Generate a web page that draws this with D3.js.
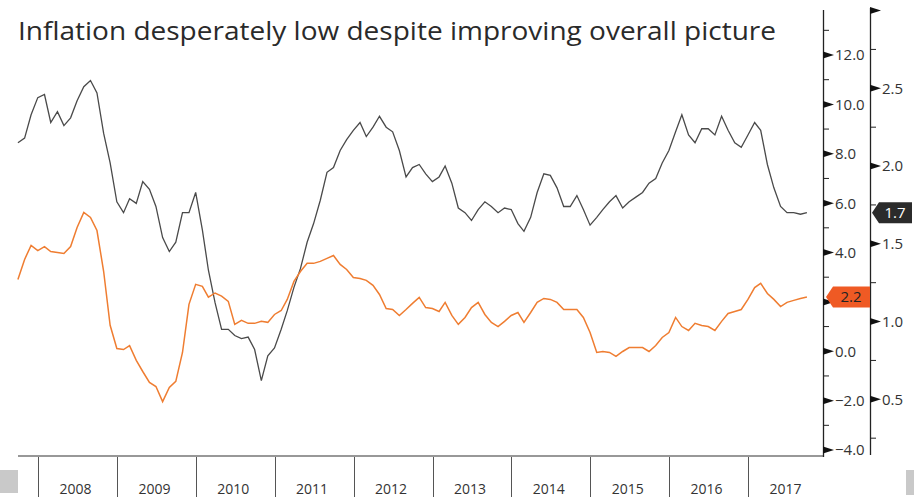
<!DOCTYPE html>
<html lang="en">
<head>
<meta charset="UTF-8">
<script src="https://d3js.org/d3.v7.min.js"></script>
<style>
  body { margin: 0; background: #fff; }
  svg { display: block; font-family: "Open Sans", "Liberation Sans", Arial, sans-serif; }
</style>
</head>
<body>
<div id="chart"></div>
<script>
// month-end observations, Sep 2007 .. Sep 2017
var startMonth = "2007-09";
// gray series (right axis)
var coreValues = [
  2.15, 2.18, 2.33, 2.44, 2.46, 2.28, 2.35, 2.26, 2.31, 2.42, 2.51, 2.55, 2.47,
  2.21, 2.02, 1.77, 1.70, 1.79, 1.76, 1.90, 1.85, 1.74, 1.54, 1.45, 1.51, 1.70,
  1.70, 1.83, 1.59, 1.33, 1.12, 0.95, 0.95, 0.91, 0.89, 0.90, 0.82, 0.62, 0.78,
  0.83, 0.95, 1.07, 1.22, 1.34, 1.51, 1.63, 1.78, 1.96, 1.99, 2.10, 2.17, 2.23,
  2.28, 2.19, 2.25, 2.32, 2.25, 2.22, 2.10, 1.93, 1.99, 2.01, 1.95, 1.90, 1.93,
  2.00, 1.89, 1.73, 1.70, 1.65, 1.72, 1.77, 1.74, 1.70, 1.73, 1.72, 1.63, 1.58,
  1.67, 1.83, 1.95, 1.94, 1.86, 1.74, 1.74, 1.81, 1.72, 1.62, 1.67, 1.72, 1.77,
  1.81, 1.73, 1.77, 1.80, 1.83, 1.89, 1.92, 2.02, 2.10, 2.22, 2.33, 2.20, 2.15,
  2.24, 2.24, 2.20, 2.32, 2.23, 2.15, 2.12, 2.20, 2.28, 2.23, 2.01, 1.86, 1.74,
  1.70, 1.70, 1.69, 1.70
];
// orange series (left axis)
var headlineValues = [
  2.91, 3.72, 4.29, 4.08, 4.24, 4.04, 4.00, 3.96, 4.24, 5.01, 5.62, 5.42, 4.89,
  3.23, 1.05, 0.11, 0.07, 0.23, -0.37, -0.82, -1.26, -1.43, -2.04, -1.47, -1.22, -0.05,
  1.90, 2.71, 2.63, 2.19, 2.36, 2.23, 2.02, 1.09, 1.25, 1.13, 1.13, 1.21, 1.17,
  1.49, 1.65, 2.10, 2.83, 3.23, 3.56, 3.56, 3.64, 3.76, 3.88, 3.52, 3.31, 2.99,
  2.95, 2.87, 2.67, 2.30, 1.73, 1.69, 1.45, 1.69, 1.94, 2.18, 1.77, 1.73, 1.61,
  1.98, 1.45, 1.09, 1.37, 1.77, 1.98, 1.49, 1.17, 1.00, 1.21, 1.45, 1.57, 1.17,
  1.57, 1.98, 2.14, 2.10, 1.98, 1.69, 1.69, 1.69, 1.37, 0.76, -0.05, -0.01, -0.05,
  -0.21, -0.01, 0.15, 0.15, 0.15, -0.01, 0.23, 0.56, 0.76, 1.37, 1.00, 0.84, 1.13,
  1.04, 1.00, 0.84, 1.21, 1.53, 1.61, 1.69, 2.10, 2.58, 2.75, 2.34, 2.10, 1.81,
  1.98, 2.06, 2.14, 2.20
];
var years = [2008, 2009, 2010, 2011, 2012, 2013, 2014, 2015, 2016, 2017];
var leftTicks = [-4, -2, 0, 2, 4, 6, 8, 10, 12];
var leftLabels = [-4, -2, 0, 4, 6, 8, 10, 12]; // 2.0 sits under the last-value tag
var leftMinor = [-3, -1, 1, 3, 5, 7, 9, 11, 13];
var rightTicks = [0.5, 1.0, 1.5, 2.0, 2.5];
var rightMinor = [0.25, 0.75, 1.25, 1.75, 2.25, 2.75];
var titleText = "Inflation desperately low despite improving overall picture";

var W = 914, H = 497;
var axisL = 823, axisR = 870, frameBottom = 456;

var parseMonth = d3.timeParse("%Y-%m");
var first = parseMonth(startMonth);
function monthEnd(i) {
  return d3.timeDay.offset(d3.timeMonth.offset(first, i + 1), -1);
}
var core = coreValues.map(function(v, i) { return { date: monthEnd(i), value: v }; });
var headline = headlineValues.map(function(v, i) { return { date: monthEnd(i), value: v }; });

var x = d3.scaleTime()
  .domain([new Date(2008, 0, 1), new Date(2018, 0, 1)])
  .range([38, 827]);
var yLeft = d3.scaleLinear().domain([-4, 12]).range([450, 55]);
var yRight = d3.scaleLinear().domain([0.5, 2.5]).range([399.3, 88.3]);

var svg = d3.select("#chart").append("svg")
  .attr("width", W).attr("height", H);

// title
svg.append("text")
  .attr("x", 18).attr("y", 40)
  .attr("textLength", 758)
  .attr("lengthAdjust", "spacingAndGlyphs")
  .style("font-size", "25px")
  .style("fill", "#2a2a2a")
  .text(titleText);

// bottom frame
svg.append("line")
  .attr("x1", 18).attr("x2", axisL)
  .attr("y1", frameBottom).attr("y2", frameBottom)
  .attr("stroke", "#333").attr("stroke-width", 1.2);

// year separators and labels
svg.selectAll(".yearline").data(years).enter().append("line")
  .attr("x1", function(d) { return Math.round(x(new Date(d, 0, 1))) + 0.5; })
  .attr("x2", function(d) { return Math.round(x(new Date(d, 0, 1))) + 0.5; })
  .attr("y1", frameBottom + 1).attr("y2", H)
  .attr("stroke", "#555").attr("stroke-width", 1);

svg.selectAll(".yearlabel").data(years).enter().append("text")
  .attr("x", function(d) { return (x(new Date(d, 0, 1)) + x(new Date(d + 1, 0, 1))) / 2 - 2; })
  .attr("y", 494)
  .attr("text-anchor", "middle")
  .style("font-size", "14px")
  .style("fill", "#333")
  .text(function(d) { return d; });

// axes
function drawAxis(ax, scale, major, minor, fmt, top, bottom, labelled) {
  var g = svg.append("g");
  g.append("line")
    .attr("x1", ax + 0.5).attr("x2", ax + 0.5)
    .attr("y1", top).attr("y2", bottom)
    .attr("stroke", "#222").attr("stroke-width", 1.3);
  g.selectAll(".minor").data(minor).enter().append("line")
    .attr("x1", ax).attr("x2", ax + 6)
    .attr("y1", function(d) { return scale(d); })
    .attr("y2", function(d) { return scale(d); })
    .attr("stroke", "#222").attr("stroke-width", 1);
  g.selectAll(".major").data(major).enter().append("path")
    .attr("d", function(d) {
      var yy = scale(d);
      return "M" + ax + "," + (yy - 3.5) + "L" + (ax + 11) + "," + yy + "L" + ax + "," + (yy + 3.5) + "Z";
    })
    .attr("fill", "#111");
  g.selectAll(".lbl").data(labelled).enter().append("text")
    .attr("x", ax + 12)
    .attr("y", function(d) { return scale(d); })
    .attr("dy", "0.36em")
    .style("font-size", "15px")
    .style("fill", "#333")
    .text(function(d) { return fmt(d); });
}
drawAxis(axisL, yLeft, leftTicks, leftMinor, d3.format(".1f"), 10, frameBottom + 1, leftLabels);
drawAxis(axisR, yRight, rightTicks.concat([3.0]), rightMinor, d3.format(".1f"), 8, 455, rightTicks);

// lines
var lineL = d3.line().x(function(d) { return x(d.date); }).y(function(d) { return yLeft(d.value); });
var lineR = d3.line().x(function(d) { return x(d.date); }).y(function(d) { return yRight(d.value); });

svg.append("path").datum(core)
  .attr("d", lineR)
  .attr("fill", "none")
  .attr("stroke", "#4a4a4a")
  .attr("stroke-width", 1.3);

svg.append("path").datum(headline)
  .attr("d", lineL)
  .attr("fill", "none")
  .attr("stroke", "#ef7d31")
  .attr("stroke-width", 1.5);

// last-value tags
function tag(xTip, xEnd, yy, fill, txtColor, label) {
  var h = 10.5;
  svg.append("path")
    .attr("d", "M" + xTip + "," + yy + "L" + (xTip + 7) + "," + (yy - h) + "L" + xEnd + "," + (yy - h) +
      "L" + xEnd + "," + (yy + h) + "L" + (xTip + 7) + "," + (yy + h) + "Z")
    .attr("fill", fill);
  svg.append("text")
    .attr("x", (xTip + 6 + xEnd) / 2)
    .attr("y", yy).attr("dy", "0.36em")
    .attr("text-anchor", "middle")
    .style("font-size", "15px")
    .style("fill", txtColor)
    .text(label);
}
var lastCore = core[core.length - 1].value;
var lastHead = headline[headline.length - 1].value;
tag(axisL + 3, axisR, yLeft(lastHead), "#ef5a24", "#222", d3.format(".1f")(lastHead));
tag(axisR + 2, 912, yRight(lastCore), "#2b2b2b", "#fff", d3.format(".1f")(lastCore));

// grey edge blocks
svg.append("rect").attr("x", 0).attr("y", 470).attr("width", 18).attr("height", 23).attr("fill", "#c9c9c9");
svg.append("rect").attr("x", 906).attr("y", 470).attr("width", 8).attr("height", 25).attr("fill", "#c9c9c9");
</script>
</body>
</html>
